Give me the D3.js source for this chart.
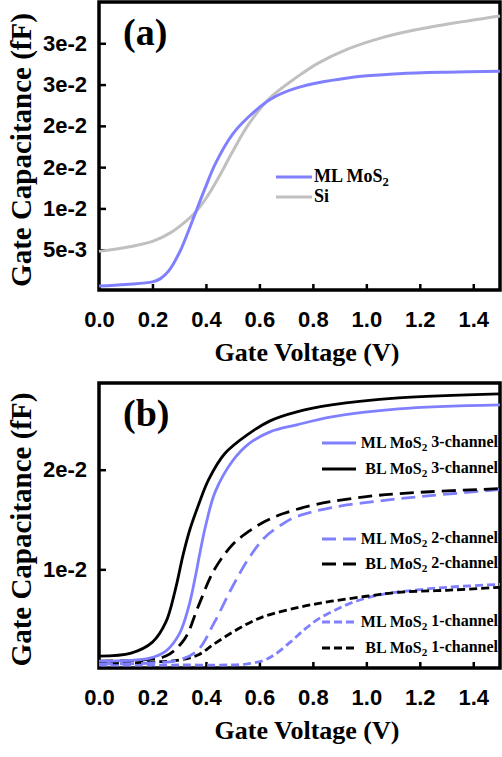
<!DOCTYPE html>
<html>
<head>
<meta charset="utf-8">
<script src="https://cdn.jsdelivr.net/npm/d3@7"></script>
<style>
  body { margin: 0; background: #fff; }
  .serif { font-family: "Liberation Serif", "Times New Roman", serif; font-weight: bold; }
  .tick text { font-family: "Liberation Sans", Arial, sans-serif; font-weight: bold; font-size: 22px; fill: #000; }
</style>
</head>
<body>
<div id="chart"></div>
<script>
// tick values / labels
var xTicks = [0.0, 0.2, 0.4, 0.6, 0.8, 1.0, 1.2, 1.4];
var yTicksA = [0.005, 0.01, 0.015, 0.02, 0.025, 0.03];
var yLabelsA = ["5e-3", "1e-2", "2e-2", "2e-2", "3e-2", "3e-2"];
var yTicksB = [0.01, 0.02];
var yLabelsB = ["1e-2", "2e-2"];

// panel (a): [gate voltage, capacitance]
var mlMoS2 = [[0, 0.0006], [0.1, 0.0008], [0.2, 0.0011], [0.23, 0.0015], [0.26, 0.0024], [0.3, 0.0046],
  [0.335, 0.0073], [0.36, 0.0094], [0.4, 0.0127], [0.435, 0.0154], [0.5, 0.019], [0.56, 0.0211],
  [0.64, 0.0232], [0.74, 0.0246], [0.93, 0.0258], [1.12, 0.0263], [1.3, 0.0265], [1.5, 0.0266]];
var si = [[0, 0.0048], [0.12, 0.0054], [0.2, 0.006], [0.27, 0.0071], [0.32, 0.0083], [0.36, 0.0095],
  [0.4, 0.0112], [0.45, 0.0139], [0.5, 0.0169], [0.56, 0.0202], [0.64, 0.0234], [0.74, 0.0259],
  [0.82, 0.0276], [0.93, 0.0293], [1.05, 0.0306], [1.18, 0.0316], [1.3, 0.0323], [1.5, 0.0333]];

// panel (b)
var ml3 = [[0, 0.0008], [0.19, 0.0011], [0.25, 0.0018], [0.3, 0.0035], [0.335, 0.0062], [0.36, 0.0092],
  [0.38, 0.012], [0.4, 0.0145], [0.435, 0.0178], [0.5, 0.0209], [0.56, 0.0226], [0.64, 0.0238],
  [0.74, 0.0245], [0.87, 0.0253], [1.12, 0.0261], [1.5, 0.0265]];
var bl3 = [[0, 0.0013], [0.12, 0.0016], [0.2, 0.0027], [0.25, 0.0047], [0.285, 0.0079], [0.315, 0.0115],
  [0.34, 0.014], [0.37, 0.0163], [0.41, 0.019], [0.47, 0.0216], [0.56, 0.0236], [0.64, 0.0249],
  [0.74, 0.0258], [0.87, 0.0265], [1.12, 0.0272], [1.5, 0.0276]];
var ml2 = [[0, 0.0005], [0.2, 0.0006], [0.3, 0.0009], [0.37, 0.0019], [0.43, 0.0046], [0.5, 0.0083],
  [0.56, 0.0111], [0.62, 0.0132], [0.69, 0.0146], [0.74, 0.0153], [0.87, 0.0162], [1.06, 0.0169],
  [1.24, 0.0174], [1.5, 0.018]];
var bl2 = [[0, 0.0008], [0.15, 0.0009], [0.25, 0.0013], [0.32, 0.003], [0.37, 0.0062], [0.43, 0.0099],
  [0.5, 0.0125], [0.56, 0.0138], [0.62, 0.0148], [0.69, 0.0156], [0.81, 0.0165], [1.0, 0.0173],
  [1.18, 0.0177], [1.5, 0.0181]];
var ml1 = [[0, 0.0004], [0.3, 0.0004], [0.55, 0.0005], [0.62, 0.0009], [0.66, 0.0015], [0.72, 0.0028],
  [0.77, 0.004], [0.82, 0.005], [0.89, 0.006], [0.95, 0.0067], [1.06, 0.0075], [1.18, 0.0079],
  [1.3, 0.0082], [1.5, 0.0085]];
var bl1 = [[0, 0.0006], [0.2, 0.0007], [0.3, 0.0009], [0.37, 0.0014], [0.43, 0.0025], [0.5, 0.0037],
  [0.56, 0.0046], [0.62, 0.0053], [0.75, 0.0062], [0.87, 0.0068], [1.0, 0.0073], [1.12, 0.0077],
  [1.3, 0.0079], [1.5, 0.0082]];

var blue = "#8080ff";
var gray = "#c0c0c0";

var svg = d3.select("#chart")
  .append("svg")
  .attr("width", 502)
  .attr("height", 757);

var xScale = d3.scaleLinear().domain([0, 1.5]).range([99, 500]);
var yScaleA = d3.scaleLinear().domain([0, 0.035]).range([291, 2]);
var yScaleB = d3.scaleLinear().domain([0, 0.0287]).range([669, 383]);

function drawPanel(yScale, yTicks, yLabels, bottomY, topY, letter) {
  var g = svg.append("g");

  // x axis
  var xAxis = d3.axisBottom(xScale)
    .tickValues(xTicks)
    .tickSize(-6)
    .tickPadding(21)
    .tickFormat(d3.format(".1f"));
  var xg = g.append("g")
    .attr("transform", `translate(0, ${bottomY})`)
    .call(xAxis);
  xg.select(".domain").remove();
  xg.selectAll(".tick line").attr("stroke-width", 2.5);

  // y axis
  var yAxis = d3.axisLeft(yScale)
    .tickValues(yTicks)
    .tickSize(-7)
    .tickPadding(12)
    .tickFormat((d, i) => yLabels[i]);
  var yg = g.append("g")
    .attr("transform", `translate(${xScale(0)}, 0)`)
    .call(yAxis);
  yg.select(".domain").remove();
  yg.selectAll(".tick line").attr("stroke-width", 2.5);

  // frame
  g.append("rect")
    .attr("x", xScale(0))
    .attr("y", topY)
    .attr("width", xScale(1.5) - xScale(0))
    .attr("height", bottomY - topY)
    .attr("fill", "none")
    .attr("stroke", "#000")
    .attr("stroke-width", 3.5);

  g.append("text")
    .attr("class", "serif")
    .attr("x", 123)
    .attr("y", topY + 43)
    .attr("font-size", 38)
    .text(letter);

  g.append("text")
    .attr("class", "serif")
    .attr("text-anchor", "middle")
    .attr("transform", `translate(31, ${(topY + bottomY) / 2 + 4}) rotate(-90)`)
    .attr("font-size", 29)
    .text("Gate Capacitance (fF)");

  g.append("text")
    .attr("class", "serif")
    .attr("text-anchor", "middle")
    .attr("x", 307)
    .attr("y", bottomY + 71)
    .attr("font-size", 26)
    .text("Gate Voltage (V)");

  return g;
}

function addCurve(g, data, yScale, color, width, dash) {
  var line = d3.line()
    .x(d => xScale(d[0]))
    .y(d => yScale(d[1]))
    .curve(d3.curveCatmullRom.alpha(0.5));
  g.append("path")
    .datum(data)
    .attr("d", line)
    .attr("fill", "none")
    .attr("stroke", color)
    .attr("stroke-width", width)
    .attr("stroke-dasharray", dash);
}

function addLegendItem(g, x1, x2, y, color, dash, anchor, tx, label1, label2) {
  g.append("line")
    .attr("x1", x1).attr("x2", x2)
    .attr("y1", y).attr("y2", y)
    .attr("stroke", color)
    .attr("stroke-width", 2.8)
    .attr("stroke-dasharray", dash);
  var t = g.append("text")
    .attr("class", "serif")
    .attr("x", tx)
    .attr("y", y + 5)
    .attr("text-anchor", anchor)
    .attr("font-size", anchor == "end" ? 16 : 18);
  t.append("tspan").text(label1);
  if (label2 !== null) {
    t.append("tspan").attr("dy", "0.3em").attr("font-size", "0.7em").text("2");
    t.append("tspan").attr("dy", "-0.3em").text(label2);
  }
}

// panel (a)
var gA = drawPanel(yScaleA, yTicksA, yLabelsA, 290, 2, "(a)");
addCurve(gA, si, yScaleA, gray, 3, null);
addCurve(gA, mlMoS2, yScaleA, blue, 3, null);
addLegendItem(gA, 276, 312, 177, blue, null, "start", 314, "ML MoS", "");
addLegendItem(gA, 276, 312, 197, gray, null, "start", 314, "Si", null);

// panel (b)
var gB = drawPanel(yScaleB, yTicksB, yLabelsB, 668, 383, "(b)");
var longDash = "14,7";
var shortDash = "8,4";
addCurve(gB, ml1, yScaleB, blue, 2.8, shortDash);
addCurve(gB, bl1, yScaleB, "#000", 2.8, shortDash);
addCurve(gB, ml2, yScaleB, blue, 2.8, longDash);
addCurve(gB, bl2, yScaleB, "#000", 2.8, longDash);
addCurve(gB, ml3, yScaleB, blue, 2.8, null);
addCurve(gB, bl3, yScaleB, "#000", 2.8, null);

addLegendItem(gB, 322, 356, 443, blue, null, "end", 498, "ML MoS", " 3-channel");
addLegendItem(gB, 322, 356, 469, "#000", null, "end", 498, "BL MoS", " 3-channel");
addLegendItem(gB, 322, 356, 539, blue, longDash, "end", 498, "ML MoS", " 2-channel");
addLegendItem(gB, 322, 356, 564, "#000", longDash, "end", 498, "BL MoS", " 2-channel");
addLegendItem(gB, 322, 356, 622, blue, shortDash, "end", 498, "ML MoS", " 1-channel");
addLegendItem(gB, 322, 356, 648, "#000", shortDash, "end", 498, "BL MoS", " 1-channel");
</script>
</body>
</html>
